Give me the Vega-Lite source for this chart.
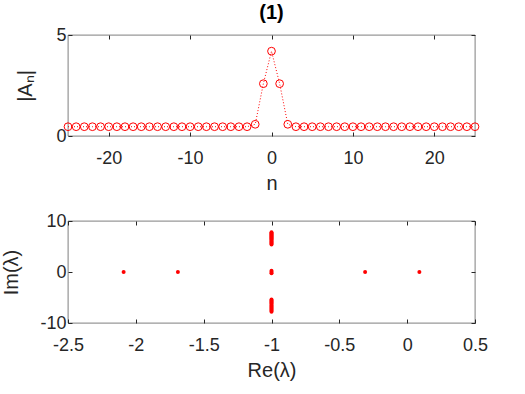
{
  "$schema": "https://vega.github.io/schema/vega-lite/v6.json",
  "background": "white",
  "padding": {"left": 1, "top": 2, "right": 5, "bottom": 5},
  "spacing": 17,
  "config": {
    "font": "Liberation Sans",
    "title": {"fontSize": 20, "fontWeight": "bold", "color": "#000000"},
    "view": {"stroke": "#262626", "strokeWidth": 0.6},
    "axis": {
      "grid": false,
      "domain": false,
      "tickColor": "#262626",
      "tickSize": -4,
      "labelColor": "#262626",
      "titleColor": "#262626",
      "labelFontSize": 18,
      "titleFontSize": 20,
      "titleFontWeight": "normal",
      "labelFlush": false,
      "labelExpr": "replace(datum.label, '−', '-')"
    },
    "axisX": {"labelPadding": 17},
    "axisY": {"labelPadding": 6}
  },
  "vconcat": [
    {
      "title": {"text": "(1)", "fontSize": 20, "fontWeight": "bold", "offset": 3},
      "width": 407,
      "height": 101,
      "data": {"values": [
        {"n": -25, "a": 0.46}, {"n": -24, "a": 0.46}, {"n": -23, "a": 0.46}, {"n": -22, "a": 0.46},
        {"n": -21, "a": 0.46}, {"n": -20, "a": 0.46}, {"n": -19, "a": 0.46}, {"n": -18, "a": 0.46},
        {"n": -17, "a": 0.46}, {"n": -16, "a": 0.46}, {"n": -15, "a": 0.46}, {"n": -14, "a": 0.46},
        {"n": -13, "a": 0.46}, {"n": -12, "a": 0.46}, {"n": -11, "a": 0.46}, {"n": -10, "a": 0.46},
        {"n": -9, "a": 0.46}, {"n": -8, "a": 0.46}, {"n": -7, "a": 0.46}, {"n": -6, "a": 0.46},
        {"n": -5, "a": 0.46}, {"n": -4, "a": 0.46}, {"n": -3, "a": 0.46}, {"n": -2, "a": 0.58},
        {"n": -1, "a": 2.59}, {"n": 0, "a": 4.2}, {"n": 1, "a": 2.59}, {"n": 2, "a": 0.58},
        {"n": 3, "a": 0.46}, {"n": 4, "a": 0.46}, {"n": 5, "a": 0.46}, {"n": 6, "a": 0.46},
        {"n": 7, "a": 0.46}, {"n": 8, "a": 0.46}, {"n": 9, "a": 0.46}, {"n": 10, "a": 0.46},
        {"n": 11, "a": 0.46}, {"n": 12, "a": 0.46}, {"n": 13, "a": 0.46}, {"n": 14, "a": 0.46},
        {"n": 15, "a": 0.46}, {"n": 16, "a": 0.46}, {"n": 17, "a": 0.46}, {"n": 18, "a": 0.46},
        {"n": 19, "a": 0.46}, {"n": 20, "a": 0.46}, {"n": 21, "a": 0.46}, {"n": 22, "a": 0.46},
        {"n": 23, "a": 0.46}, {"n": 24, "a": 0.46}, {"n": 25, "a": 0.46}
      ]},
      "resolve": {"axis": {"x": "independent", "y": "independent"}},
      "layer": [
        {
          "mark": {"type": "line", "color": "#ff0000", "strokeWidth": 1, "strokeDash": [1, 2]},
          "encoding": {
            "x": {"field": "n", "type": "quantitative", "scale": {"domain": [-25, 25], "nice": false},
                  "axis": {"values": [-20, -10, 0, 10, 20], "title": "n", "titlePadding": 6}},
            "y": {"field": "a", "type": "quantitative", "scale": {"domain": [0, 5], "nice": false},
                  "axis": {"values": [0, 5], "title": "|Aₙ|", "titlePadding": 20}}
          }
        },
        {
          "mark": {"type": "point", "shape": "circle", "filled": false, "color": "#ff0000", "size": 60, "strokeWidth": 1, "opacity": 1},
          "encoding": {
            "x": {"field": "n", "type": "quantitative",
                  "axis": {"orient": "top", "values": [-20, -10, 0, 10, 20], "labels": false, "title": null}},
            "y": {"field": "a", "type": "quantitative",
                  "axis": {"orient": "right", "values": [0, 5], "labels": false, "title": null}}
          }
        }
      ]
    },
    {
      "width": 407,
      "height": 102,
      "data": {"values": [
        {"re": -2.09, "im": 0}, {"re": -1.69, "im": 0}, {"re": -0.31, "im": 0}, {"re": 0.09, "im": 0},
        {"re": -1, "im": 0}, {"re": -1, "im": 0.25}, {"re": -1, "im": -0.25},
        {"re": -1, "im": 5.4}, {"re": -1, "im": 5.6}, {"re": -1, "im": 5.8}, {"re": -1, "im": 6.0},
        {"re": -1, "im": 6.2}, {"re": -1, "im": 6.4}, {"re": -1, "im": 6.6}, {"re": -1, "im": 6.8},
        {"re": -1, "im": 7.0}, {"re": -1, "im": 7.2}, {"re": -1, "im": 7.4}, {"re": -1, "im": 7.6},
        {"re": -1, "im": 7.8},
        {"re": -1, "im": -5.4}, {"re": -1, "im": -5.6}, {"re": -1, "im": -5.8}, {"re": -1, "im": -6.0},
        {"re": -1, "im": -6.2}, {"re": -1, "im": -6.4}, {"re": -1, "im": -6.6}, {"re": -1, "im": -6.8},
        {"re": -1, "im": -7.0}, {"re": -1, "im": -7.2}, {"re": -1, "im": -7.4}, {"re": -1, "im": -7.6},
        {"re": -1, "im": -7.8}
      ]},
      "resolve": {"axis": {"x": "independent", "y": "independent"}},
      "layer": [
        {
          "mark": {"type": "point", "shape": "circle", "filled": true, "color": "#ff0000", "size": 16, "opacity": 1},
          "encoding": {
            "x": {"field": "re", "type": "quantitative", "scale": {"domain": [-2.5, 0.5], "nice": false},
                  "axis": {"values": [-2.5, -2, -1.5, -1, -0.5, 0, 0.5], "format": "~g", "title": "Re(λ)", "titlePadding": 6}},
            "y": {"field": "im", "type": "quantitative", "scale": {"domain": [-10, 10], "nice": false},
                  "axis": {"values": [-10, 0, 10], "title": "Im(λ)", "titlePadding": 18}}
          }
        },
        {
          "mark": {"type": "point", "shape": "circle", "filled": true, "color": "#ff0000", "size": 16, "opacity": 0},
          "encoding": {
            "x": {"field": "re", "type": "quantitative",
                  "axis": {"orient": "top", "values": [-2.5, -2, -1.5, -1, -0.5, 0, 0.5], "labels": false, "title": null}},
            "y": {"field": "im", "type": "quantitative",
                  "axis": {"orient": "right", "values": [-10, 0, 10], "labels": false, "title": null}}
          }
        }
      ]
    }
  ]
}
